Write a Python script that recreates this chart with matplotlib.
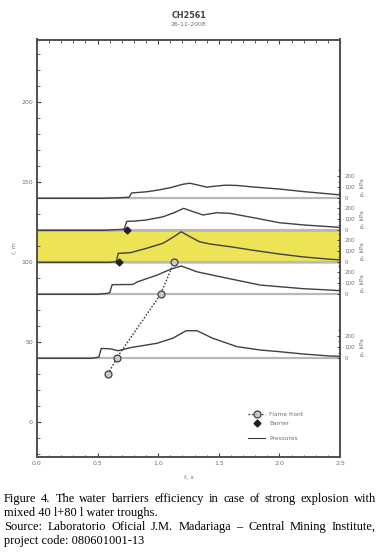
import matplotlib
matplotlib.use("Agg")
import matplotlib.pyplot as plt
from matplotlib.lines import Line2D
from matplotlib.ticker import MultipleLocator

# sensor positions along the gallery (m)
sensor_pos = [140, 120, 100, 80, 40]

# pressure records (time s, pressure kPa) per sensor
t_s1 = [0, 0.55, 0.70, 0.76, 0.78, 0.90, 1.00, 1.10, 1.20, 1.26, 1.33, 1.40, 1.48, 1.56, 1.65, 1.80, 2.00, 2.20, 2.42, 2.5]
p_s1 = [0, 0, 6, 10, 48, 58, 74, 95, 125, 135, 118, 100, 110, 118, 115, 100, 83, 60, 39, 30]
t_s2 = [0, 0.55, 0.70, 0.72, 0.74, 0.80, 0.90, 1.04, 1.13, 1.21, 1.28, 1.37, 1.48, 1.59, 1.80, 2.00, 2.20, 2.42, 2.5]
p_s2 = [0, 0, 8, 12, 80, 82, 92, 121, 157, 196, 170, 137, 157, 152, 110, 68, 48, 32, 26]
t_s3 = [0, 0.60, 0.655, 0.67, 0.77, 0.90, 1.04, 1.13, 1.19, 1.26, 1.34, 1.43, 1.59, 1.80, 2.00, 2.20, 2.42, 2.5]
p_s3 = [0, 0, 8, 80, 86, 124, 170, 229, 273, 230, 184, 163, 140, 105, 74, 48, 27, 22]
t_s4 = [0, 0.50, 0.58, 0.60, 0.62, 0.79, 0.83, 0.99, 1.10, 1.19, 1.32, 1.51, 1.67, 1.84, 2.00, 2.20, 2.42, 2.5]
p_s4 = [0, 0, 8, 15, 86, 88, 112, 171, 223, 253, 201, 157, 121, 83, 68, 50, 38, 32]
t_s5 = [0, 0.45, 0.51, 0.53, 0.60, 0.67, 0.77, 0.99, 1.12, 1.23, 1.32, 1.45, 1.65, 1.84, 2.00, 2.20, 2.42, 2.5]
p_s5 = [0, 0, 10, 88, 85, 68, 95, 134, 179, 246, 246, 179, 104, 74, 59, 38, 20, 18]

flame_t = [0.585, 0.656, 1.02, 1.13]
flame_l = [30, 40, 80, 100]
barrier_t = [0.675, 0.745]
barrier_l = [100, 120]

band = [100, 120]  # barrier zone
kpa_scale = 0.07   # m of plot per kPa
p_ticks = [0, 100, 200]

caption = [
    "Figure 4. The water barriers efficiency in case of strong explosion with",
    "mixed 40 l+80 l water troughs.",
    "Source: Laboratorio Oficial J.M. Madariaga \u2013 Central Mining Institute,",
    "project code: 080601001-13",
]

W, H = 380, 553
fig = plt.figure(figsize=(W / 100, H / 100), dpi=100)
ax = fig.add_axes([37 / W, 1 - 456.5 / H, 303 / W, 417 / H])

dark = "#404040"
tcol = "#707070"

ax.axhspan(band[0], band[1], color="#ece455", zorder=1)
for b in band:
    ax.axhline(b, color="#505050", lw=1.0, zorder=2)

traces = [(t_s1, p_s1), (t_s2, p_s2), (t_s3, p_s3), (t_s4, p_s4), (t_s5, p_s5)]
for pos, (tt, pp) in zip(sensor_pos, traces):
    ax.axhline(pos, color="#b8b8b8", lw=1.6, zorder=2)
    ax.plot(tt, [pos + p * kpa_scale for p in pp], color=dark, lw=1.0, zorder=3)

ax.plot(flame_t, flame_l, color=dark, lw=1.0, ls=(0, (1.2, 1.2)), marker="o",
        ms=5, mfc="#c8c8c8", mec=dark, mew=0.9, zorder=5)
ax.plot(barrier_t, barrier_l, ls="none", marker="D", ms=3.5, color="#202020", zorder=5)

ax.set_xlim(0, 2.5)
ax.set_ylim(-21.4, 239.3)
ax.xaxis.set_major_locator(MultipleLocator(0.5))
ax.xaxis.set_minor_locator(MultipleLocator(0.1))
ax.yaxis.set_major_locator(MultipleLocator(50))
ax.yaxis.set_minor_locator(MultipleLocator(10))
ax.xaxis.set_major_formatter(lambda v, p: f"{v:.1f}")
ax.tick_params(which="both", direction="in", top=True, right=False, color=dark,
               labelsize=4.5, labelcolor=tcol, pad=3)
ax.tick_params(which="major", length=3, width=0.8)
ax.tick_params(which="minor", length=1.8, width=0.6)
for s in ax.spines.values():
    s.set_color("#505050")
    s.set_linewidth(1.4)

# right-hand pressure scales
rt = ax.twinx()
rt.set_ylim(ax.get_ylim())
ticks, labels, minor = [], [], []
for pos in sensor_pos:
    for p in p_ticks:
        ticks.append(pos + p * kpa_scale)
        labels.append(str(p))
    for p in [50, 150, 250]:
        minor.append(pos + p * kpa_scale)
    rt.text(1.075, pos + 100 * kpa_scale, "p, kPa", transform=rt.get_yaxis_transform(),
            rotation=90, ha="center", va="center", fontsize=4.2, color=tcol)
rt.set_yticks(ticks, labels)
rt.set_yticks(minor, minor=True)
rt.tick_params(which="both", direction="in", color=dark, labelsize=4, labelcolor=tcol, pad=3)
rt.tick_params(which="major", length=2.5, width=0.7)
rt.tick_params(which="minor", length=1.5, width=0.6)
for s in rt.spines.values():
    s.set_visible(False)

ax.set_xlabel("t, s", fontsize=4.5, color=tcol, style="italic", labelpad=7)
ax.set_ylabel("l, m", fontsize=4.5, color=tcol, style="italic", labelpad=3)

h_flame = Line2D([], [], color=dark, lw=1.0, ls=(0, (1.2, 1.2)), marker="o", ms=5,
                 mfc="#c8c8c8", mec=dark, mew=0.9)
h_barrier = Line2D([], [], ls="none", marker="D", ms=3.5, color="#202020")
h_press = Line2D([], [], color=dark, lw=0.8)
leg1 = ax.legend([h_flame, h_barrier], ["Flame front", "Barrier"], loc="upper left",
                 bbox_to_anchor=((245 - 37) / 303, (456.5 - 409) / 417), frameon=False,
                 fontsize=4.2, labelcolor=tcol, handlelength=3, labelspacing=0.7,
                 borderpad=0, handletextpad=0.6)
ax.add_artist(leg1)
ax.legend([h_press], ["Pressures"], loc="upper left",
          bbox_to_anchor=((245 - 37) / 303, (456.5 - 433) / 417), frameon=False,
          fontsize=4.2, labelcolor=tcol, handlelength=3, borderpad=0, handletextpad=0.6)

fig.text(188.5 / W, 1 - 15 / H, "CH2561", ha="center", va="center",
         fontsize=5.8, fontweight="bold", color="#404040")
fig.text(188.5 / W, 1 - 25 / H, "26-11-2008", ha="center", va="center",
         fontsize=4.5, color=tcol)

# caption, first and third lines justified
renderer = fig.canvas.get_renderer()
x0, x1 = 4, 376
ys = [499, 513, 527, 541]
for i, (line, y) in enumerate(zip(caption, ys)):
    if i in (0, 2):
        words = line.split()
        items = [fig.text(0, 1 - y / H, w, fontsize=8.9, family="Liberation Serif",
                          va="center", ha="left") for w in words]
        widths = [it.get_window_extent(renderer).width for it in items]
        gap = (x1 - x0 - sum(widths)) / (len(words) - 1)
        x = x0
        for it, w in zip(items, widths):
            it.set_x(x / W)
            x += w + gap
    else:
        fig.text(x0 / W, 1 - y / H, line, fontsize=8.9, family="Liberation Serif",
                 va="center", ha="left")

fig.savefig("out.png", dpi=100)
